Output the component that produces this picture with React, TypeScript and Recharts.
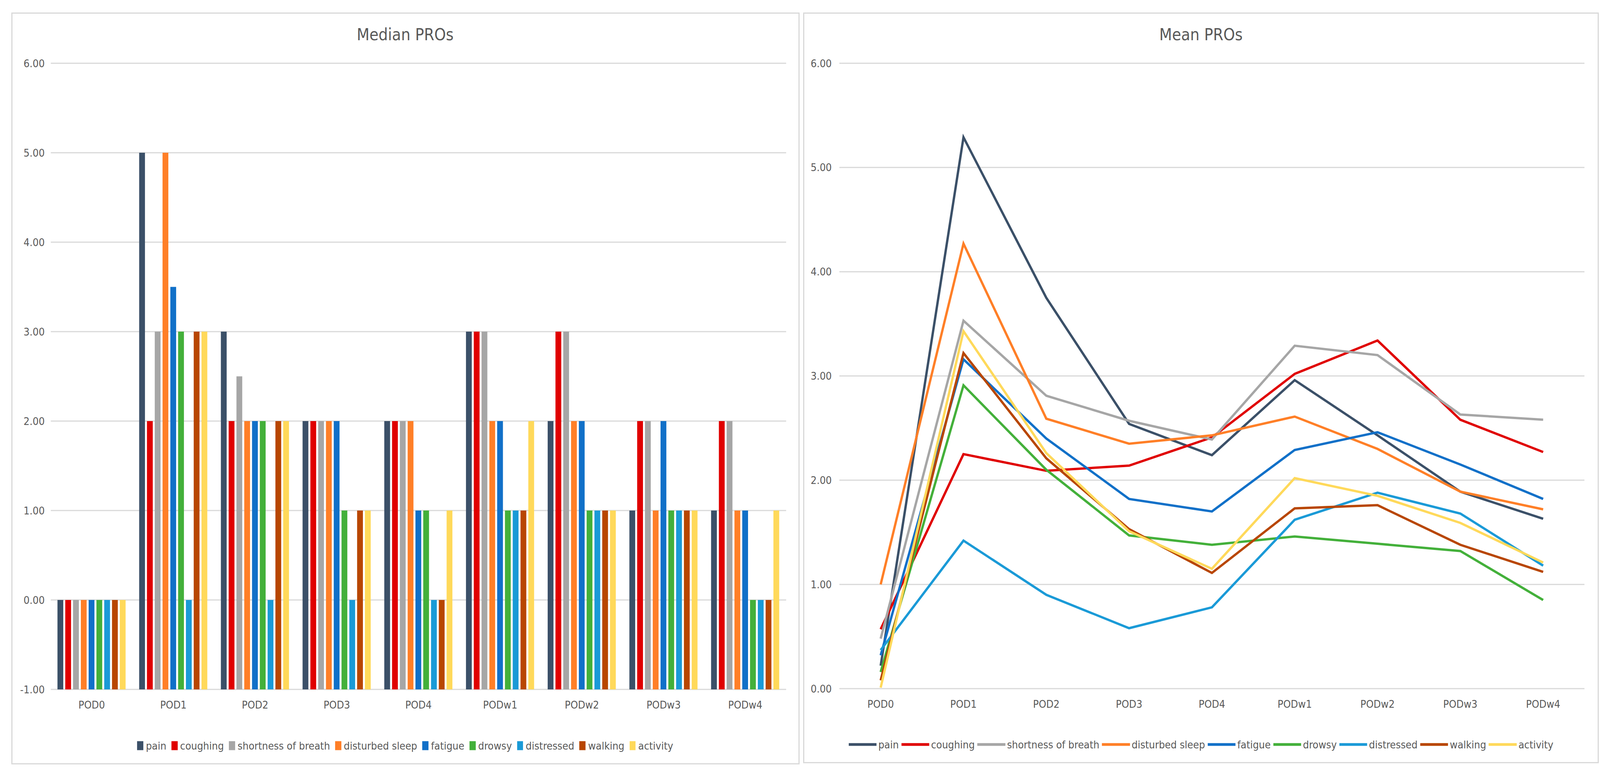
import { BarChart, Bar, LineChart, Line, XAxis, YAxis, CartesianGrid } from 'recharts';

// categories and series
const categories = ['POD0', 'POD1', 'POD2', 'POD3', 'POD4', 'PODw1', 'PODw2', 'PODw3', 'PODw4'];
const seriesNames = ['pain', 'coughing', 'shortness of breath', 'disturbed sleep', 'fatigue', 'drowsy', 'distressed', 'walking', 'activity'];
const seriesColors = ['#3B5068', '#E00000', '#A6A6A6', '#FF7F27', '#1170C8', '#43B03A', '#1A9AD7', '#B84600', '#FFD95A'];

// Median PROs (bars)
const medianPain = [0, 5, 3, 2, 2, 3, 2, 1, 1];
const medianCoughing = [0, 2, 2, 2, 2, 3, 3, 2, 2];
const medianShortness = [0, 3, 2.5, 2, 2, 3, 3, 2, 2];
const medianSleep = [0, 5, 2, 2, 2, 2, 2, 1, 1];
const medianFatigue = [0, 3.5, 2, 2, 1, 2, 2, 2, 1];
const medianDrowsy = [0, 3, 2, 1, 1, 1, 1, 1, 0];
const medianDistressed = [0, 0, 0, 0, 0, 1, 1, 1, 0];
const medianWalking = [0, 3, 2, 1, 0, 1, 1, 1, 0];
const medianActivity = [0, 3, 2, 1, 1, 2, 1, 1, 1];

// Mean PROs (lines)
const meanPain = [0.22, 5.29, 3.75, 2.54, 2.24, 2.96, 2.43, 1.89, 1.63];
const meanCoughing = [0.57, 2.25, 2.09, 2.14, 2.41, 3.02, 3.34, 2.58, 2.27];
const meanShortness = [0.48, 3.53, 2.81, 2.57, 2.39, 3.29, 3.2, 2.63, 2.58];
const meanSleep = [1.0, 4.27, 2.59, 2.35, 2.43, 2.61, 2.3, 1.89, 1.72];
const meanFatigue = [0.32, 3.16, 2.4, 1.82, 1.7, 2.29, 2.46, 2.15, 1.82];
const meanDrowsy = [0.16, 2.91, 2.1, 1.47, 1.38, 1.46, 1.39, 1.32, 0.85];
const meanDistressed = [0.37, 1.42, 0.9, 0.58, 0.78, 1.62, 1.88, 1.68, 1.18];
const meanWalking = [0.08, 3.22, 2.21, 1.53, 1.11, 1.73, 1.76, 1.38, 1.12];
const meanActivity = [0.01, 3.43, 2.26, 1.51, 1.15, 2.02, 1.85, 1.59, 1.21];

const medianTicks = [-1, 0, 1, 2, 3, 4, 5, 6];
const meanTicks = [0, 1, 2, 3, 4, 5, 6];

const medianSeries = [medianPain, medianCoughing, medianShortness, medianSleep, medianFatigue, medianDrowsy, medianDistressed, medianWalking, medianActivity];
const meanSeries = [meanPain, meanCoughing, meanShortness, meanSleep, meanFatigue, meanDrowsy, meanDistressed, meanWalking, meanActivity];

// bars in the original start at the bottom of the axis (-1), so store them as ranges
const medianRows = categories.map((cat, ci) => {
  const row: any = { cat };
  seriesNames.forEach((name, si) => { row[name] = [medianTicks[0], medianSeries[si][ci]]; });
  return row;
});
const meanRows = categories.map((cat, ci) => {
  const row: any = { cat };
  seriesNames.forEach((name, si) => { row[name] = meanSeries[si][ci]; });
  return row;
});

// the window may come out narrower than the 4415px layout; squeeze x only
const FULL_W = 4415;
const sx = typeof window !== 'undefined' ? Math.min(1, window.innerWidth / FULL_W) : 1;
const X = (v: number) => v * sx;

const FONT = "'DejaVu Sans Condensed', 'DejaVu Sans', sans-serif";
const FS = 27;
const TEXT = '#595959';
const GRID = '#D9D9D9';
const tickStyle = { fill: TEXT, fontSize: FS, fontFamily: FONT };

function Panel({ x, y, w, h }: any) {
  return <div style={{ position: 'absolute', left: x, top: y, width: w, height: h, boxSizing: 'border-box', border: `3px solid ${GRID}` }} />;
}

function Title({ cx, text }: any) {
  return (
    <div style={{ position: 'absolute', left: cx, top: 63, transform: 'translateX(-50%)', fontFamily: FONT, fontSize: 42, lineHeight: '52px', color: TEXT, whiteSpace: 'nowrap' }}>
      {text}
    </div>
  );
}

function LegendRow({ kind, cx, cy }: any) {
  return (
    <div style={{ position: 'absolute', left: cx, top: cy, transform: 'translate(-50%, -50%)', display: 'flex', alignItems: 'center', whiteSpace: 'nowrap', fontFamily: FONT, fontSize: FS, color: TEXT }}>
      {seriesNames.map((name, i) => (
        <div key={name} style={{ display: 'flex', alignItems: 'center', marginRight: i < seriesNames.length - 1 ? X(kind === 'bar' ? 14 : 7) : 0 }}>
          {kind === 'bar'
            ? <span style={{ display: 'inline-block', width: X(17), height: 23, background: seriesColors[i], marginRight: X(7) }} />
            : <span style={{ display: 'inline-block', width: X(77), height: 7, background: seriesColors[i], marginRight: X(5) }} />}
          <span>{name}</span>
        </div>
      ))}
    </div>
  );
}

export default function App() {
  return (
    <div style={{ position: 'relative', width: X(FULL_W), height: 1979, background: '#fff', overflow: 'hidden' }}>
      <style>{'body{margin:0}'}</style>

      {/* left: Median PROs */}
      <Panel x={X(31)} y={32} w={X(2175)} h={1925} />
      <div style={{ position: 'absolute', left: X(31), top: 32 }}>
        <BarChart width={X(2175)} height={1925} data={medianRows} margin={{ top: 130, right: X(37), bottom: 162, left: 0 }} barGap={X(5.5)}>
          <CartesianGrid vertical={false} stroke={GRID} strokeWidth={3} />
          <XAxis dataKey="cat" axisLine={false} tickLine={false} tickSize={0} tickMargin={30} interval={0} tick={tickStyle} />
          <YAxis type="number" width={X(109)} domain={[-1, 6]} ticks={medianTicks} axisLine={false} tickLine={false} tickSize={0} tickMargin={X(17)} tick={tickStyle} tickFormatter={(v: number) => v.toFixed(2)} />
          {seriesNames.map((name, i) => (
            <Bar key={name} dataKey={name} fill={seriesColors[i]} barSize={X(16)} isAnimationActive={false} />
          ))}
        </BarChart>
      </div>
      <Title cx={X(1118)} text="Median PROs" />
      <LegendRow kind="bar" cx={X(1118)} cy={1909} />

      {/* right: Mean PROs */}
      <Panel x={X(2216)} y={32} w={X(2196)} h={1922} />
      <div style={{ position: 'absolute', left: X(2216), top: 32 }}>
        <LineChart width={X(2196)} height={1922} data={meanRows} margin={{ top: 130, right: X(40), bottom: 161, left: 0 }}>
          <CartesianGrid vertical={false} stroke={GRID} strokeWidth={3} />
          <XAxis dataKey="cat" axisLine={false} tickLine={false} tickSize={0} tickMargin={30} interval={0} padding={{ left: X(114), right: X(114) }} tick={tickStyle} />
          <YAxis type="number" width={X(100)} domain={[0, 6]} ticks={meanTicks} axisLine={false} tickLine={false} tickSize={0} tickMargin={X(21)} tick={tickStyle} tickFormatter={(v: number) => v.toFixed(2)} />
          {seriesNames.map((name, i) => (
            <Line key={name} type="linear" dataKey={name} stroke={seriesColors[i]} strokeWidth={6} dot={false} isAnimationActive={false} />
          ))}
        </LineChart>
      </div>
      <Title cx={X(3314)} text="Mean PROs" />
      <LegendRow kind="line" cx={X(3314)} cy={1906} />
    </div>
  );
}
